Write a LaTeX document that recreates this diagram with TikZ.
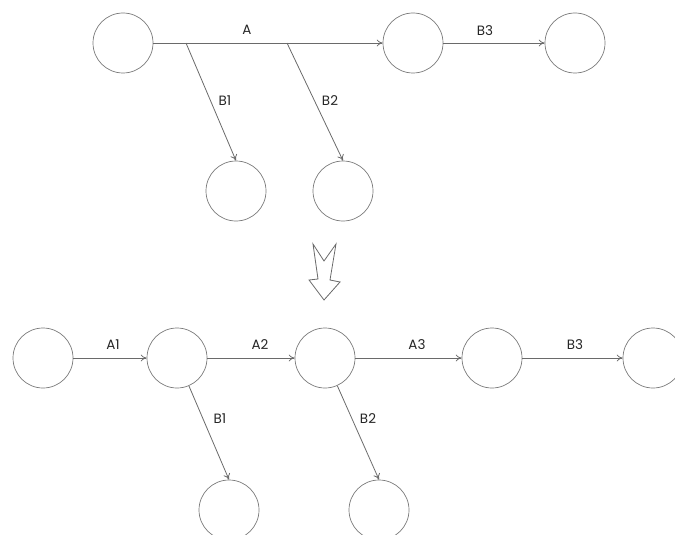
\documentclass[tikz,border=0pt]{standalone}
\usepackage{fontspec}
\setmainfont{Poppins}
\usetikzlibrary{arrows.meta}
\definecolor{ink}{HTML}{6A6A6A}
\tikzset{
  evt/.style={circle, draw=ink!90, line width=0.7pt, minimum size=60pt, inner sep=0pt},
  act/.style={draw=ink, line width=0.8pt, -{To[length=6pt,width=7pt]}},
  lbl/.style={font=\fontsize{13.5}{13.5}\selectfont, text=black!85, inner sep=1pt}
}
\begin{document}
\begin{tikzpicture}[x=1pt,y=-1pt]
\useasboundingbox (0,0) rectangle (675,535);
\clip (0,0) rectangle (675,535);
% top network
\node[evt] (t1) at (123,43) {};
\node[evt] (t2) at (413,43) {};
\node[evt] (t3) at (575,43) {};
\node[evt] (tb1) at (236,191) {};
\node[evt] (tb2) at (343,191) {};
\coordinate (s1) at (186,43);
\coordinate (s2) at (287,43);
\draw[act] (t1) -- (t2);
\draw[act] (t2) -- (t3);
\draw[act] (s1) -- (tb1.north);
\draw[act] (s2) -- (tb2.north);
\node[lbl] (la) at (247,30) {A};
\node[lbl] (lb3) at (485,31) {B3};
\node[lbl] (lb1) at (225,101) {B1};
\node[lbl] (lb2) at (330,101) {B2};
% transformation arrow
\draw[ink, line width=0.8pt, line join=miter]
  (313,244) -- (324,261) -- (336,244) -- (330,280) -- (340,282)
  -- (324,300) -- (309,280) -- (318,279) -- cycle;
% bottom network
\node[evt] (b1) at (43,358) {};
\node[evt] (b2) at (177,358) {};
\node[evt] (b3) at (325,358) {};
\node[evt] (b4) at (492,358) {};
\node[evt] (b5) at (653,358) {};
\node[evt] (bd1) at (229,510) {};
\node[evt] (bd2) at (379,510) {};
\draw[act] (b1) -- (b2);
\draw[act] (b2) -- (b3);
\draw[act] (b3) -- (b4);
\draw[act] (b4) -- (b5);
\draw[act] (b2) -- (bd1.north);
\draw[act] (b3) -- (bd2.north);
\node[lbl] (la1) at (113,345) {A1};
\node[lbl] (la2) at (260,345) {A2};
\node[lbl] (la3) at (417,345) {A3};
\node[lbl] (lbb3) at (575,345) {B3};
\node[lbl] (lbb1) at (220,419) {B1};
\node[lbl] (lbb2) at (368,419) {B2};
\end{tikzpicture}
\end{document}
